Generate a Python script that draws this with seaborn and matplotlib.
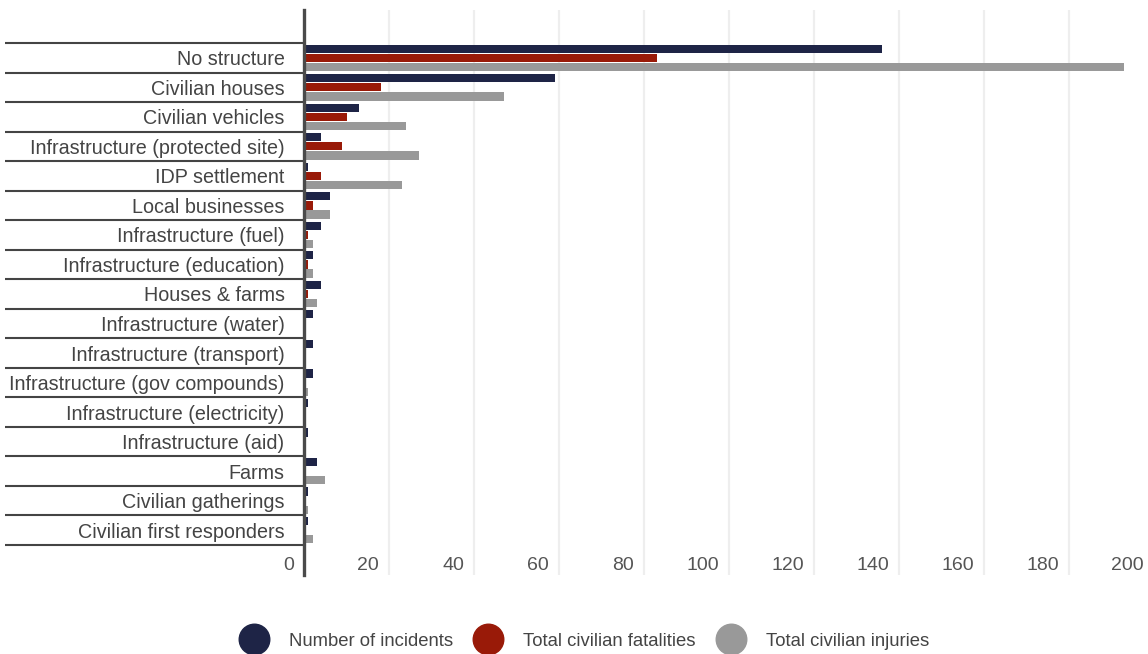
import matplotlib
matplotlib.use("Agg")
import matplotlib.pyplot as plt
import matplotlib.transforms as mtransforms
from matplotlib.lines import Line2D
import seaborn as sns
import pandas as pd

# Data
categories = [
    "No structure", "Civilian houses", "Civilian vehicles",
    "Infrastructure (protected site)", "IDP settlement", "Local businesses",
    "Infrastructure (fuel)", "Infrastructure (education)", "Houses & farms",
    "Infrastructure (water)", "Infrastructure (transport)",
    "Infrastructure (gov compounds)", "Infrastructure (electricity)",
    "Infrastructure (aid)", "Farms", "Civilian gatherings",
    "Civilian first responders",
]
incidents = [136, 59, 13, 4, 1, 6, 4, 2, 4, 2, 2, 2, 1, 1, 3, 1, 1]
fatalities = [83, 18, 10, 9, 4, 2, 1, 1, 1, 0, 0, 0, 0, 0, 0, 0, 0]
injuries = [193, 47, 24, 27, 23, 6, 2, 2, 3, 0, 0, 1, 0, 0, 5, 1, 2]
series = ["Number of incidents", "Total civilian fatalities", "Total civilian injuries"]
colors = ["#1e2446", "#991a08", "#999999"]
x_ticks = list(range(0, 201, 20))

df = pd.DataFrame({
    "category": categories * 3,
    "series": [series[0]] * len(categories) + [series[1]] * len(categories) + [series[2]] * len(categories),
    "value": incidents + fatalities + injuries,
})

sns.set_style("white")
plt.rcParams["font.family"] = ["Liberation Sans", "DejaVu Sans"]

W, H = 1148, 654
fig = plt.figure(figsize=(W / 100, H / 100), dpi=100)
ax = fig.add_axes([304 / W, (H - 575) / H, (1154 - 304) / W, (575 - 10) / H])

sns.barplot(data=df, y="category", x="value", hue="series", order=categories,
            hue_order=series, palette=colors, orient="h", width=0.925, gap=0.1,
            ax=ax, legend=False, saturation=1, linewidth=0)

n = len(categories)
ax.set_xlim(0, 200)
ax.set_ylim(n - 0.5 + 1.02, -0.5 - 1.12)
ax.set_xlabel("")
ax.set_ylabel("")

# vertical grid
ax.set_xticks(x_ticks)
ax.grid(axis="x", color="#eeeeee", linewidth=1.6)
ax.set_axisbelow(True)
for s in ["top", "right", "bottom"]:
    ax.spines[s].set_visible(False)
ax.spines["left"].set_color("#4a4a4a")
ax.spines["left"].set_linewidth(2.4)

# category separators as long minor ticks
ax.set_yticks([i - 0.5 for i in range(n + 1)], minor=True)
ax.tick_params(axis="y", which="minor", length=215, width=1.5, color="#444444", left=True)
ax.tick_params(axis="y", which="major", length=0, pad=14, labelsize=14.2, labelcolor="#444444")

# x tick labels inside the axes, left of each grid line
ax.tick_params(axis="x", length=0, pad=-13, labelsize=14, labelcolor="#555555")
offset = mtransforms.ScaledTranslation(-10 / 100, 0, fig.dpi_scale_trans)
for lab in ax.get_xticklabels():
    lab.set_horizontalalignment("right")
    lab.set_transform(lab.get_transform() + offset)

handles = [Line2D([], [], marker="o", linestyle="", markersize=22, color=c) for c in colors]
fig.legend(handles, series, loc="center", bbox_to_anchor=(586 / W, 1 - 641 / H), ncol=3,
           frameon=False, fontsize=13.3, labelcolor="#444444", handletextpad=1.3,
           columnspacing=1.3, handlelength=1.2)

fig.savefig("out.png", dpi=100)
